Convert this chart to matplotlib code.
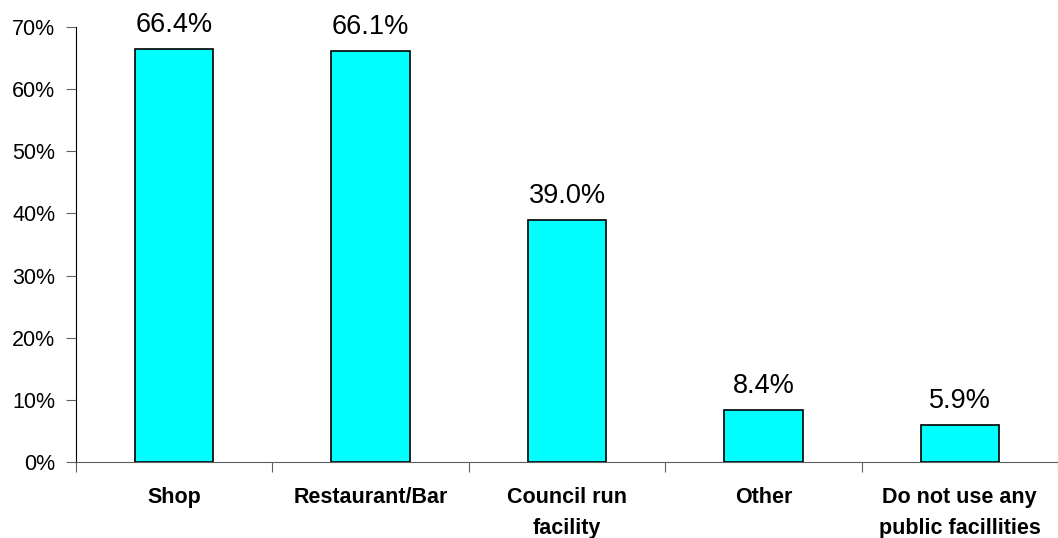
import matplotlib.pyplot as plt
from matplotlib.ticker import PercentFormatter
import numpy as np

plt.rcParams['font.family'] = ['Liberation Sans', 'DejaVu Sans']

categories = ['Shop', 'Restaurant/Bar', 'Council run\nfacility', 'Other',
              'Do not use any\npublic facillities']
values = [66.4, 66.1, 39.0, 8.4, 5.9]
value_labels = ['66.4%', '66.1%', '39.0%', '8.4%', '5.9%']

fig = plt.figure(figsize=(10.58, 5.38), dpi=100)
ax = fig.add_axes([76 / 1058, 76 / 538, 1 - 76 / 1058, 435 / 538])

x = np.arange(len(categories))
bars = ax.bar(x, values, width=0.4, color='#00FFFF', edgecolor='black', linewidth=1.2, zorder=3)

for bar, lab in zip(bars, value_labels):
    ax.annotate(lab, (bar.get_x() + bar.get_width() / 2, bar.get_height()),
                xytext=(0, 8), textcoords='offset points',
                ha='center', va='bottom', fontsize=19.5)

ax.set_xlim(-0.5, 4.5)
ax.set_ylim(0, 70)
ax.set_yticks(range(0, 71, 10))
ax.yaxis.set_major_formatter(PercentFormatter(decimals=0))

# category ticks sit between groups, labels centred under bars
ax.set_xticks(np.arange(-0.5, 4.6, 1.0))
ax.set_xticklabels([])
ax.set_xticks(x, minor=True)
ax.set_xticklabels(categories, minor=True, fontsize=15.5, fontweight='bold',
                   linespacing=1.65)
ax.tick_params(axis='x', which='minor', length=0, pad=18)
ax.tick_params(axis='x', which='major', length=7, color='#606060', direction='out')
ax.tick_params(axis='y', length=7, color='#606060', labelsize=15.5, pad=8)

for s in ['top', 'right']:
    ax.spines[s].set_visible(False)
ax.spines['bottom'].set_color('#606060')
ax.spines['left'].set_color('black')

fig.savefig('out.png', dpi=100)
